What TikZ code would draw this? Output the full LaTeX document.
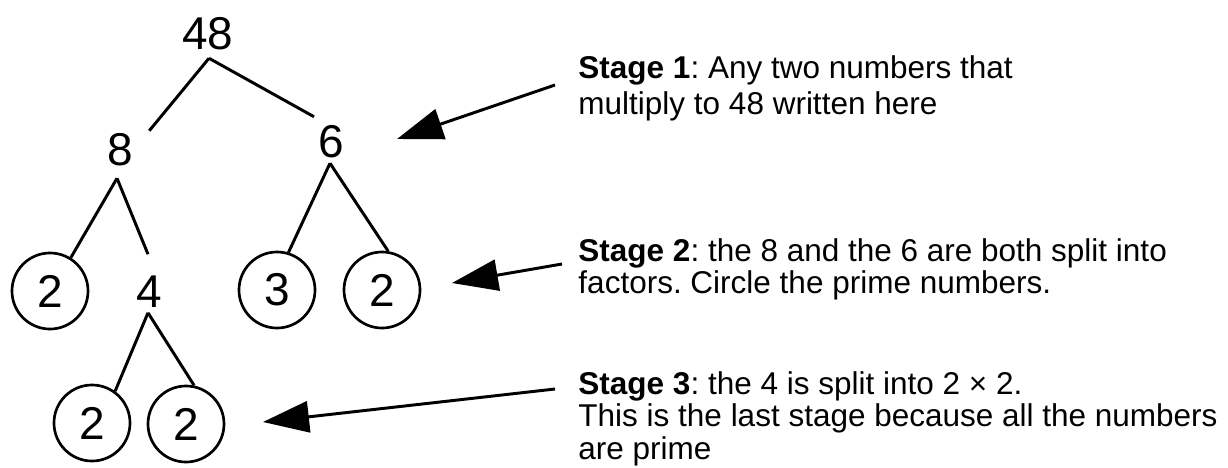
\documentclass[tikz,border=0pt]{standalone}
\usepackage{fontspec}
\setmainfont{Liberation Sans}
\usetikzlibrary{arrows.meta}
\frenchspacing

\begin{document}
\begin{tikzpicture}[
                        x=0.025cm,
                        y=-0.025cm,
                        line width=2.1pt,
                        >={Triangle[length=1.15cm,width=0.78cm]}
                    ]
                    \tikzstyle{num}=[inner sep=0pt,font=\fontsize{32.7}{39}\selectfont]
                    \tikzstyle{prime}=[num,circle,draw,minimum size=1.9cm,line width=1.9pt]
                    \tikzstyle{note}=[inner sep=0pt,anchor=north west,align=left,font=\fontsize{22.4}{23.1}\selectfont]

                    \useasboundingbox (0,0) rectangle (1228,467);

                    % factor tree
                    \node[num]   (n48) at (208,34)  {48} ;
                    \node[num]   (n8)  at (120,150) {8} ;
                    \node[num]   (n6)  at (331,142) {6} ;
                    \node[prime] (p2a) at (50,291)  {2} ;
                    \node[num]   (n4)  at (149,292) {4} ;
                    \node[prime] (p3)  at (277,290) {3} ;
                    \node[prime] (p2b) at (382,290) {2} ;
                    \node[prime] (p2c) at (92,423)  {2} ;
                    \node[prime] (p2d) at (186,424) {2} ;

                    \draw ([shift={(1,6.5)}]n48.south) -- ([shift={(15,-1.5)}]n8.north east) ;
                    \draw ([shift={(1,6.5)}]n48.south) -- ([shift={(-17,-7.5)}]n6.north) ;
                    \draw ([shift={(-3,10.5)}]n8.south) -- (p2a.58) ;
                    \draw ([shift={(-3,10.5)}]n8.south) -- ([shift={(-1,-20.5)}]n4.north) ;
                    \draw ([shift={(-1,3.5)}]n6.south)  -- (p3.73) ;
                    \draw ([shift={(-1,3.5)}]n6.south)  -- (p2b.81) ;
                    \draw ([shift={(-1,3.5)}]n4.south)  -- (p2c.54) ;
                    \draw ([shift={(-1,3.5)}]n4.south)  -- (p2d.78) ;

                    % notes on the right
                    \node[note] (stage1) at (577,54)  {\textbf{Stage 1}: Any two numbers that\\[2.5pt]multiply to 48 written here} ;
                    \node[note] (stage2) at (577,237) {\textbf{Stage 2}: the 8 and the 6 are both split into\\factors. Circle the prime numbers.} ;
                    \node[note] (stage3) at (577,370) {\textbf{Stage 3}: the 4 is split into 2 × 2.\\This is the last stage because all the numbers\\are prime} ;

                    \coordinate (tip1) at (397,139) ;
                    \coordinate (tip2) at (452,283) ;
                    \coordinate (tip3) at (263,422) ;

                    \draw[->] ([shift={(-22,31)}]stage1.north west) -- (tip1) ;
                    \draw[->] ([shift={(-15,27)}]stage2.north west) -- (tip2) ;
                    \draw[->] ([shift={(-22,19)}]stage3.north west) -- (tip3) ;
                \end{tikzpicture}
\end{document}
